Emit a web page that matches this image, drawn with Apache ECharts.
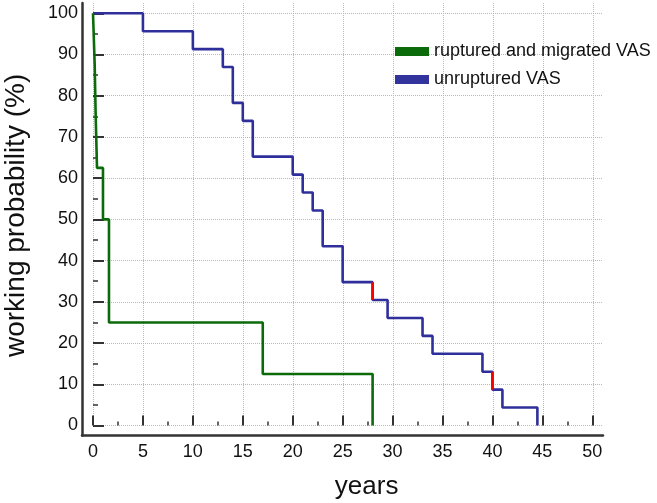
<!DOCTYPE html>
<html>
<head>
<meta charset="utf-8">
<script src="https://cdn.jsdelivr.net/npm/echarts@6/dist/echarts.min.js"></script>
<style>
  html, body { margin: 0; padding: 0; background: #fff; }
  #chart { width: 657px; height: 503px; }
</style>
</head>
<body>
<div id="chart"></div>
<script>
// survival steps: [year, working probability % after the drop]
var unrupturedYears = [0, 5, 10, 13, 14, 15, 16, 20, 21, 22, 23, 25, 28, 29.5, 33, 34, 39, 40, 41, 44.5]
var unrupturedProb = [100, 95.65, 91.3, 86.96, 78.26, 73.91, 65.22, 60.87, 56.52, 52.17, 43.48, 34.78, 30.43, 26.09, 21.74, 17.39, 13.04, 8.7, 4.35, 0]

var rupturedYears = [0, 0.17, 0.27, 0.4, 1, 1.6, 17, 28]
var rupturedProb = [100, 87.5, 75, 62.5, 50, 25, 12.5, 0]

// drops drawn in red on the unruptured curve
var redYears = [28, 40]
var redFrom = [34.78, 13.04]
var redTo = [30.43, 8.7]

var xMax = 50, yMax = 100

var font = "'Liberation Sans', Arial, sans-serif"
var axisColor = '#333'

var myChart = echarts.init(document.getElementById('chart'))

function pairs(xs, ys) {
  return xs.map(function (x, i) { return [x, ys[i]] })
}

var redData = []
redYears.forEach(function (x, i) {
  if (i > 0) redData.push([x, '-'])
  redData.push([x, redFrom[i]])
  redData.push([x, redTo[i]])
})

var option = {
  animation: false,
  backgroundColor: '#fff',
  grid: [
    // data area
    { left: 93, right: 64.7, top: 13.3, bottom: 77.5, outerBoundsMode: 'none' },
    // dotted grid, a bit larger than the data area
    { left: 93, right: 54, top: 3, bottom: 77.5, outerBoundsMode: 'none' },
    // axis frame
    { left: 82, right: 54, top: 3, bottom: 67.5, outerBoundsMode: 'none' }
  ],
  legend: {
    orient: 'vertical',
    left: 395,
    top: 42.5,
    padding: 0,
    itemWidth: 34,
    itemHeight: 9,
    itemGap: 10,
    icon: 'rect',
    data: ['ruptured and migrated VAS', 'unruptured VAS'],
    textStyle: { fontFamily: font, fontSize: 18, lineHeight: 18, color: '#111' }
  },
  xAxis: [
    {
      gridIndex: 0,
      type: 'value',
      min: 0,
      max: xMax,
      interval: 5,
      offset: 10,
      name: 'years',
      nameLocation: 'middle',
      nameGap: 38,
      nameTextStyle: { fontFamily: font, fontSize: 26, color: '#111', padding: [0, 0, 0, 48] },
      axisLine: { show: false },
      axisTick: { inside: true, length: 10, lineStyle: { color: axisColor, width: 2 } },
      minorTick: { show: true, splitNumber: 2, length: 4, lineStyle: { color: axisColor, width: 1.5 } },
      axisLabel: { margin: 8, fontFamily: font, fontSize: 18, color: '#111' },
      splitLine: { show: false }
    },
    {
      gridIndex: 1,
      type: 'value',
      min: 0,
      max: 51,
      interval: 5,
      axisLine: { show: false },
      axisTick: { show: false },
      axisLabel: { show: false },
      splitLine: { show: true, showMaxLine: false, lineStyle: { color: '#b8b8b8', type: 'dotted', width: 1 } }
    },
    {
      gridIndex: 2,
      type: 'value',
      min: 0,
      max: 1,
      axisLine: { show: true, lineStyle: { color: axisColor, width: 2.5 } },
      axisTick: { show: false },
      axisLabel: { show: false },
      splitLine: { show: false }
    }
  ],
  yAxis: [
    {
      gridIndex: 0,
      type: 'value',
      min: 0,
      max: yMax,
      interval: 10,
      offset: 11,
      name: 'working probability (%)',
      nameLocation: 'middle',
      nameGap: 52,
      nameTextStyle: { fontFamily: font, fontSize: 28, color: '#111', padding: [0, 0, 0, 8] },
      axisLine: { show: false },
      axisTick: { inside: true, length: 11, lineStyle: { color: axisColor, width: 2 } },
      minorTick: { show: true, splitNumber: 2, length: 5, lineStyle: { color: axisColor, width: 1.5 } },
      axisLabel: { margin: 4, fontFamily: font, fontSize: 18, color: '#111' },
      splitLine: { show: false }
    },
    {
      gridIndex: 1,
      type: 'value',
      min: 0,
      max: 102.5,
      interval: 10,
      axisLine: { show: false },
      axisTick: { show: false },
      axisLabel: { show: false },
      splitLine: { show: true, showMaxLine: false, lineStyle: { color: '#b8b8b8', type: 'dotted', width: 1 } }
    },
    {
      gridIndex: 2,
      type: 'value',
      min: 0,
      max: 1,
      axisLine: { show: true, lineStyle: { color: axisColor, width: 2.5 } },
      axisTick: { show: false },
      axisLabel: { show: false },
      splitLine: { show: false }
    }
  ],
  series: [
    {
      name: 'unruptured VAS',
      type: 'line',
      step: 'end',
      xAxisIndex: 0,
      yAxisIndex: 0,
      symbol: 'none',
      color: '#2f2f9c',
      lineStyle: { width: 2.6, color: '#2f2f9c' },
      itemStyle: { color: '#33339e' },
      data: pairs(unrupturedYears, unrupturedProb),
      z: 3
    },
    {
      name: 'ruptured and migrated VAS',
      type: 'line',
      step: 'end',
      xAxisIndex: 0,
      yAxisIndex: 0,
      symbol: 'none',
      color: '#0b6b0b',
      lineStyle: { width: 2.6, color: '#0b6b0b' },
      itemStyle: { color: '#0b6b0b' },
      data: pairs(rupturedYears, rupturedProb),
      z: 4
    },
    {
      name: 'drop',
      type: 'line',
      xAxisIndex: 0,
      yAxisIndex: 0,
      symbol: 'none',
      connectNulls: false,
      lineStyle: { width: 2.6, color: '#ff0000' },
      data: redData,
      z: 5
    }
  ]
}

myChart.setOption(option)
</script>
</body>
</html>
